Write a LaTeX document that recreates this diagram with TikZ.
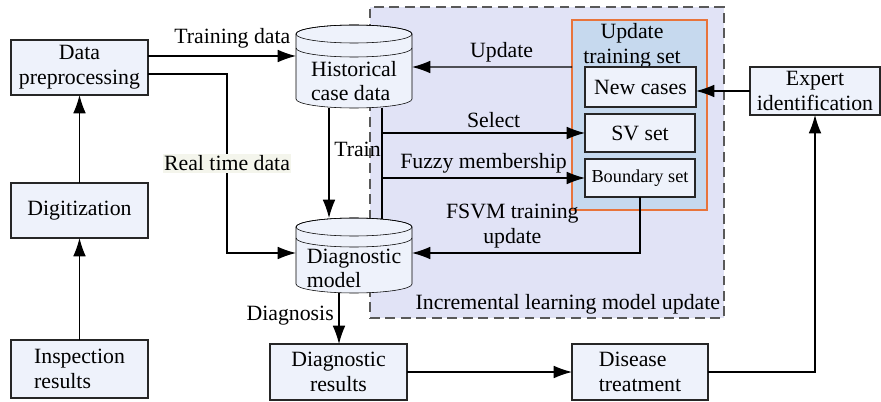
\documentclass[tikz,border=0pt]{standalone}
\usepackage{fontspec}
\setmainfont{Liberation Serif}
\usetikzlibrary{arrows.meta,backgrounds}
\definecolor{boxfill}{HTML}{EEF2FB}
\definecolor{regionfill}{HTML}{E1E3F6}
\definecolor{setfill}{HTML}{C6D9EE}
\definecolor{setline}{HTML}{E8743B}
\definecolor{tagfill}{HTML}{F4F5EC}
\newcommand{\dbdraw}[3]{%
  \draw[fill=boxfill] ([yshift=#2]#1.north west) -- ([yshift=0.225cm]#1.south west)
    arc[start angle=180,end angle=360,x radius=1.45cm,y radius=0.225cm]
    -- ([yshift=#2]#1.north east)
    arc[start angle=0,end angle=180,x radius=1.45cm,y radius=0.225cm] -- cycle;
  \draw ([yshift=#2]#1.north) ellipse [x radius=1.45cm,y radius=0.225cm];
  \draw ([yshift=#3]#1.north west) arc[start angle=180,end angle=360,x radius=1.45cm,y radius=0.225cm];}
\begin{document}
\begin{tikzpicture}[every node/.style={font=\fontsize{15.5}{17.5}\selectfont},
    box/.style={draw=black!85,fill=boxfill,minimum width=3.425cm,minimum height=1.375cm,align=center,inner sep=1pt,outer sep=0pt},
    db/.style={minimum width=2.9cm,align=left,inner sep=0pt,outer sep=0pt},
    setitem/.style={draw=black!85,fill=boxfill,minimum width=2.75cm,minimum height=0.95cm,inner sep=1pt,outer sep=0pt},
    arr/.style={-{Latex[length=13pt,width=9pt]},line width=0.8pt},
    line width=0.8pt]
  \useasboundingbox (0,0) rectangle (22.025,-10.05);
  \node[box] (prep) at (1.9875,-1.6875) {Data\\preprocessing};
  \node[box] (digit) at (1.9875,-5.2625) {Digitization};
  \node[box,minimum height=1.45cm,align=left] (insp) at (1.9875,-9.225) {Inspection\\results};
  \node[db,minimum height=1.35cm] (hist) at (8.85,-2.025) {Historical\\case data};
  \node[db,minimum height=1.225cm] (diag) at (8.85,-6.7125) {Diagnostic\\model};
  \node[box,minimum height=1.4cm] (diagres) at (8.4625,-9.3) {Diagnostic\\results};
  \node[box,minimum width=3.4cm,minimum height=1.4cm,align=left] (disease) at (16,-9.3) {Disease\\treatment};
  \node[box,minimum width=3.25cm,minimum height=1.2cm] (expert) at (20.375,-2.275) {Expert\\identification};
  \node[draw=setline,fill=setfill,minimum width=3.375cm,minimum height=4.75cm,outer sep=0pt] (trainset) at (15.9875,-2.875) {};
  \node[align=center] (trainlabel) at (15.8,-1.15) {Update\\training set};
  \node[setitem,minimum width=2.775cm,minimum height=1cm] (newc) at (16.0125,-2.175) {New cases};
  \node[setitem] (svset) at (16,-3.325) {SV set};
  \node[setitem,font=\fontsize{13}{15}\selectfont] (bndset) at (16,-4.45) {Boundary set};
  \begin{scope}[on background layer]
    \node[draw=black!65,dash pattern=on 7pt off 4pt,line width=1.1pt,fill=regionfill,minimum width=8.85cm,minimum height=7.775cm] (incr) at (13.675,-4.0625) {};
    \dbdraw{hist}{0.5cm}{0.15cm}
    \dbdraw{diag}{0.425cm}{0.15cm}
  \end{scope}
  \node[anchor=south east,inner sep=3pt] (incrlabel) at (incr.south east) {Incremental learning model update};
  \draw[arr] ([yshift=0.2875cm]prep.east) -- node[pos=0.57,above=2pt] {Training data} ([yshift=0.2875cm]prep.east -| hist.west);
  \coordinate (rt) at (5.675,-6.325);
  \draw[arr] ([yshift=-0.1625cm]prep.east) -| node[pos=0.75,fill=tagfill,inner sep=1pt] {Real time data} (rt) -- (rt -| diag.west);
  \draw[arr] (digit) -- (prep);
  \draw[arr] (insp) -- (digit);
  \draw[arr] ([yshift=1.2cm]trainset.west) -- node[pos=0.44,above] {Update} ([yshift=0.35cm]hist.east);
  \coordinate (tap) at ([xshift=0.7cm]hist.south);
  \draw (tap) -- ([xshift=0.7cm,yshift=0.625cm]diag.north);
  \draw[arr] (tap |- svset.west) -- node[pos=0.55,above] {Select} (svset.west);
  \draw[arr] (tap |- bndset.west) -- node[above] {Fuzzy membership} (bndset.west);
  \draw[arr] (bndset.south) |- node[pos=0.78,above,align=center] {FSVM training\\update} ([yshift=0.3875cm]diag.east);
  \draw[arr] ([xshift=-0.625cm]hist.south) -- node[pos=0.38,right] {Train} ([xshift=-0.625cm,yshift=0.65cm]diag.north);
  \draw[arr] ([xshift=-0.375cm]diag.south) -- node[pos=0.44,left] {Diagnosis} ([xshift=-0.375cm]diag.south |- diagres.north);
  \draw[arr] (diagres) -- (disease);
  \draw[arr] (disease.east) -| (expert.south);
  \draw[arr] (expert.west) -- (expert.west -| newc.east);
\end{tikzpicture}
\end{document}
